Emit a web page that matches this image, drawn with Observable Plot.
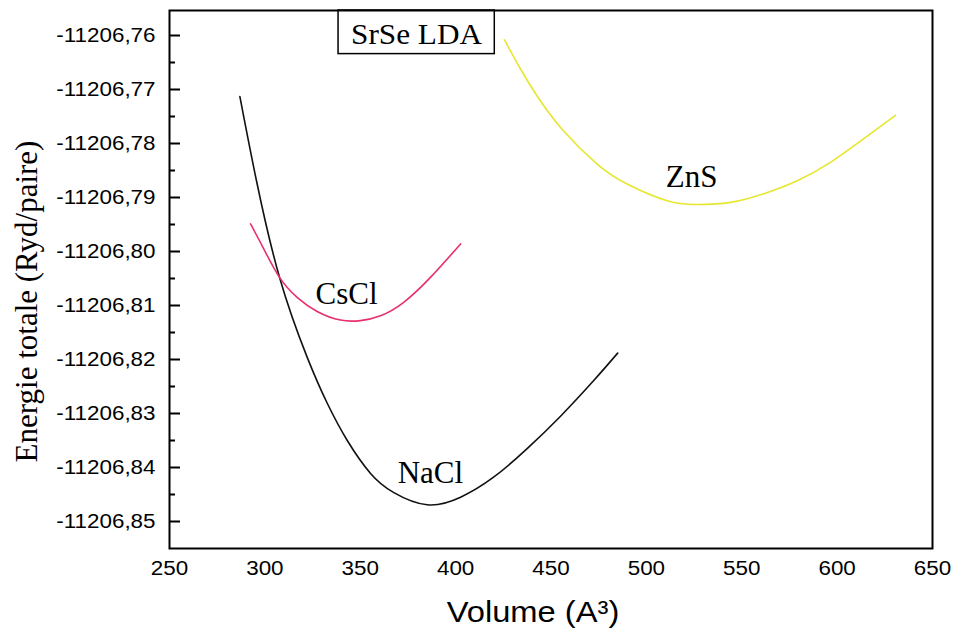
<!DOCTYPE html>
<html><head><meta charset="utf-8">
<script src="https://cdn.jsdelivr.net/npm/d3@7"></script>
<script src="https://cdn.jsdelivr.net/npm/@observablehq/plot@0.6"></script>
<style>body{margin:0;background:#fff}</style>
</head><body><div id="chart"></div>
<script>
// Data
const naclV = [286.9, 295.6, 307.7, 322.2, 332.7, 343.2, 355.4, 367.4, 385.1, 402.6, 419.9, 437.5, 455.0, 472.4, 485.0];
const naclE = [-11206.7713, -11206.7869, -11206.8048, -11206.8196, -11206.8281, -11206.8350, -11206.8411, -11206.8446, -11206.8469, -11206.8455, -11206.8418, -11206.8365, -11206.8305, -11206.8239, -11206.8188];
const csclV = [292.5, 299.4, 307.7, 316.9, 327.4, 339.6, 350.1, 360.6, 372.8, 386.8, 402.6];
const csclE = [-11206.7949, -11206.7995, -11206.8048, -11206.8085, -11206.8111, -11206.8127, -11206.8128, -11206.8119, -11206.8094, -11206.8048, -11206.7986];
const znsV = [425.6, 434.0, 442.9, 455.9, 474.2, 489.9, 510.9, 526.6, 544.1, 561.6, 579.1, 596.5, 614.0, 630.6];
const znsE = [-11206.7608, -11206.7662, -11206.7713, -11206.7774, -11206.7838, -11206.7875, -11206.7906, -11206.7913, -11206.7909, -11206.7893, -11206.7869, -11206.7835, -11206.7791, -11206.7748];

const structureNames = ["NaCl", "CsCl", "ZnS"];
const structureColors = ["#111111", "#e8306a", "#e6e62e"];
const labelV = [386.8, 342.8, 523.7];
const labelE = [-11206.8411, -11206.8078, -11206.7863];

const xTicks = [250, 300, 350, 400, 450, 500, 550, 600, 650];
const yTicks = [-11206.76, -11206.77, -11206.78, -11206.79, -11206.80, -11206.81, -11206.82, -11206.83, -11206.84, -11206.85];
const yMinorTicks = [-11206.765, -11206.775, -11206.785, -11206.795, -11206.805, -11206.815, -11206.825, -11206.835, -11206.845];

const titleText = "SrSe LDA";
const xLabel = "Volume (A³)";
const yLabel = "Energie totale (Ryd/paire)";

const rows = [];
[[naclV, naclE], [csclV, csclE], [znsV, znsE]].forEach(([vs, es], i) => {
  vs.forEach((v, j) => rows.push({structure: structureNames[i], V: v, E: es[j]}));
});
const labels = structureNames.map((s, i) => ({structure: s, V: labelV[i], E: labelE[i]}));

const fmt = d => d.toFixed(2).replace(".", ",");
const serif = "'Liberation Serif', 'Times New Roman', serif";

const chart = Plot.plot({
  width: 956, height: 635,
  marginLeft: 169, marginRight: 24, marginTop: 10, marginBottom: 87,
  style: {fontFamily: "'Liberation Sans', Arial, sans-serif", background: "#fff", color: "#000"},
  x: {domain: [250, 650]},
  y: {domain: [-11206.855, -11206.75537]},
  color: {domain: structureNames, range: structureColors},
  marks: [
    Plot.axisX({ticks: xTicks, tickSize: 0, tickPadding: 12, fontSize: 20, label: null}),
    Plot.axisY({ticks: yTicks, tickSize: 0, tickPadding: 14, fontSize: 20, tickFormat: fmt, label: null}),
    Plot.axisY({ticks: yTicks, tickSize: 11, dx: 11, strokeWidth: 2, tickFormat: () => "", label: null}),
    Plot.axisY({ticks: yMinorTicks, tickSize: 6, dx: 6, strokeWidth: 2, tickFormat: () => "", label: null}),
    Plot.line(rows, {x: "V", y: "E", z: "structure", stroke: "structure", strokeWidth: 1.6, curve: "natural"}),
    Plot.text(labels, {x: "V", y: "E", text: "structure", fontSize: 31, fontFamily: serif, fill: "#000", lineAnchor: "middle"}),
    Plot.text([titleText], {text: d => d, frameAnchor: "top-left", dx: 247, dy: 23.5, fontSize: 30, fontFamily: serif, textAnchor: "middle", lineAnchor: "middle", fill: "#000"}),
    Plot.text([xLabel], {text: d => d, frameAnchor: "bottom", dx: -18, dy: 64, fontSize: 30, textAnchor: "middle", lineAnchor: "middle", fill: "#000"}),
    Plot.text([yLabel], {text: d => d, frameAnchor: "left", dx: -142, dy: 22, rotate: -90, fontSize: 31, fontFamily: serif, textAnchor: "middle", lineAnchor: "middle", fill: "#000"}),
    Plot.frame({strokeWidth: 2, stroke: "#000"})
  ]
});
document.getElementById("chart").appendChild(chart);

// the reference lettering is slightly wider than the installed fonts: stretch horizontally
function stretch(node, k) {
  const L = node.getComputedTextLength();
  node.setAttribute("textLength", (L * k).toFixed(1));
  node.setAttribute("lengthAdjust", "spacingAndGlyphs");
}
const allText = Array.from(chart.querySelectorAll("text"));
allText.filter(n => /^-?[\d,]+$/.test(n.textContent.trim())).forEach(n => stretch(n, 1.12));
allText.filter(n => n.textContent === xLabel).forEach(n => stretch(n, 1.09));
allText.filter(n => n.textContent === titleText).forEach(n => stretch(n, 1.04));

// box around the title label
const svgRect = chart.getBoundingClientRect();
const tNode = allText.find(n => n.textContent === titleText);
if (tNode) {
  const bb = tNode.getBoundingClientRect();
  const x0 = bb.left - svgRect.left - 13, x1 = bb.right - svgRect.left + 12;
  const y0 = 10, y1 = bb.bottom - svgRect.top + 4;
  d3.select(chart).append("rect")
    .attr("x", x0).attr("y", y0).attr("width", x1 - x0).attr("height", y1 - y0)
    .attr("fill", "none").attr("stroke", "#000").attr("stroke-width", 1.5);
}
</script>
</body></html>
